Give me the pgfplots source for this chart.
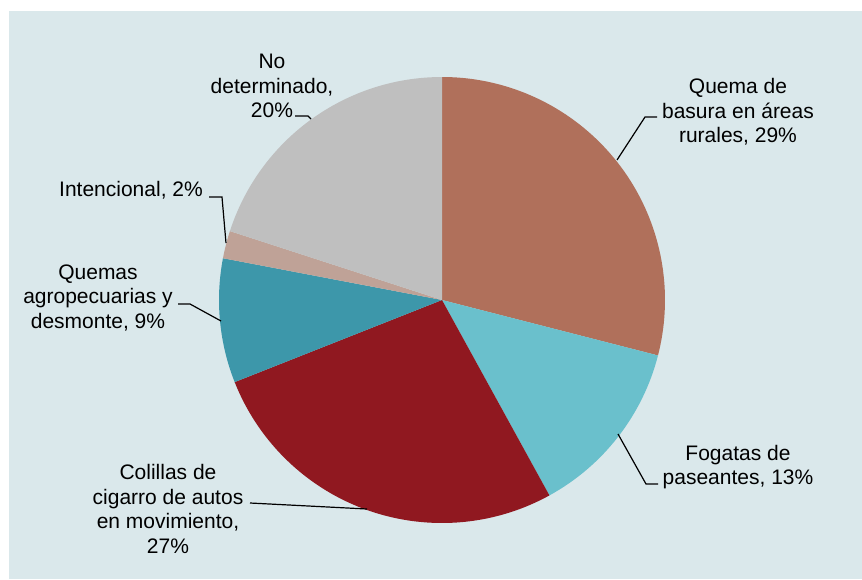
\documentclass[border=0pt]{standalone}
\usepackage{pgfplots}
\usepackage{pgfplotstable}
\pgfplotsset{compat=1.18}
\usepackage{fontspec}
\setmainfont{Liberation Sans}
\definecolor{bg}{HTML}{DAE8EB}
\definecolor{cBasura}{HTML}{B0705B}
\definecolor{cFogatas}{HTML}{6AC0CC}
\definecolor{cColillas}{HTML}{901820}
\definecolor{cAgro}{HTML}{3D97AA}
\definecolor{cInten}{HTML}{BFA297}
\definecolor{cNoDet}{HTML}{BFBFBF}
\newcommand\lbl{\fontsize{21}{24.5}\selectfont}
\pgfplotstableread{
p col
29 cBasura
13 cFogatas
27 cColillas
9 cAgro
2 cInten
20 cNoDet
}\piedata
\begin{document}
\begin{tikzpicture}
\begin{axis}[x=1pt,y=1pt,y dir=reverse,xmin=0,xmax=862,ymin=0,ymax=579,
  hide axis,clip=false,scale only axis]
\fill[white] (axis cs:0,0) rectangle (axis cs:862,579);
\fill[bg] (axis cs:9,11) rectangle (axis cs:862,579);
\pgfmathsetmacro\angA{90}
\pgfplotstablegetrowsof{\piedata}
\pgfmathtruncatemacro\nrows{\pgfplotsretval-1}
\pgfplotsforeachungrouped \i in {0,...,\nrows}{%
  \pgfplotstablegetelem{\i}{p}\of\piedata \let\pv\pgfplotsretval
  \pgfplotstablegetelem{\i}{col}\of\piedata \let\pc\pgfplotsretval
  \pgfmathsetmacro\angB{\angA-3.6*\pv}%
  \edef\cmd{\noexpand\fill[\pc] (axis cs:442,300) -- ++(\angA:223pt) arc[start angle=\angA, end angle=\angB, radius=223pt] -- cycle;}%
  \cmd
  \let\angA\angB
}
\draw[line width=1.2pt] (axis cs:617,160) -- (axis cs:645,117) -- (axis cs:657,117);
\draw[line width=1.2pt] (axis cs:618,434) -- (axis cs:646,484) -- (axis cs:658,484);
\draw[line width=1.2pt] (axis cs:367,509) -- (axis cs:250,503);
\draw[line width=1.2pt] (axis cs:221,321) -- (axis cs:190,304) -- (axis cs:178,304);
\draw[line width=1.2pt] (axis cs:226,243) -- (axis cs:222,197) -- (axis cs:209,197);
\draw[line width=1.2pt] (axis cs:295,116) -- (axis cs:308,116) -- (axis cs:311,119);
\node[font=\lbl,align=center,inner sep=0pt] at (axis cs:738,112) {Quema de\\basura en áreas\\rurales, 29\%};
\node[font=\lbl,align=center,inner sep=0pt] at (axis cs:738,467) {Fogatas de\\paseantes, 13\%};
\node[font=\lbl,align=center,inner sep=0pt] at (axis cs:168,509) {Colillas de\\cigarro de autos\\en movimiento,\\27\%};
\node[font=\lbl,align=center,inner sep=0pt] at (axis cs:98,298) {Quemas\\agropecuarias y\\desmonte, 9\%};
\node[font=\lbl,align=center,inner sep=0pt] at (axis cs:131,190) {Intencional, 2\%};
\node[font=\lbl,align=center,inner sep=0pt] at (axis cs:272,86) {No\\determinado,\\20\%};
\end{axis}
\end{tikzpicture}
\end{document}
